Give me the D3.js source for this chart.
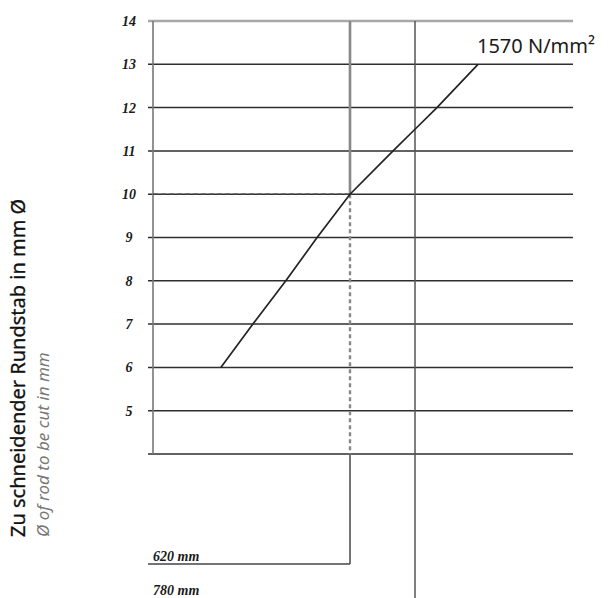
<!DOCTYPE html>
<html>
<head>
<meta charset="utf-8">
<script src="https://cdn.jsdelivr.net/npm/d3@7"></script>
<style>
  html, body { margin: 0; padding: 0; background: #fff; }
  svg { display: block; }
</style>
</head>
<body>
<svg id="chart" width="608" height="598"></svg>
<script>
// ---- data ----
const yTicks = [5, 6, 7, 8, 9, 10, 11, 12, 13, 14];      // labelled diameters (mm)
const gridLevels = [4, 5, 6, 7, 8, 9, 10, 11, 12, 13, 14];
const curveDia = [6, 7, 8, 9, 10, 11, 11.5, 12, 13];      // rod diameter (mm)
const curveLen = [302, 381, 462, 539, 620, 726, 780, 834, 935]; // length axis (mm)
const lengths = [620, 780];                                 // tool lengths (mm)
const lengthLabels = ["620 mm", "780 mm"];
const materialLabel = "1570 N/mm²";
const markDia = 10;
const titleMain = "Zu schneidender Rundstab in mm Ø";
const titleSub = "Ø of rod to be cut in mm";

// ---- scales ----
const svg = d3.select("#chart");
const y = d3.scaleLinear().domain([4, 14]).range([454, 21]);
const x = d3.scaleLinear().domain([620, 780]).range([350, 415]);
const xLeft = 153, xRight = 573, tickLen = 5;
const lenY = d3.scaleLinear().domain([620, 780]).range([564, 600]);

// horizontal grid lines
svg.append("g").selectAll("line").data(gridLevels).join("line")
  .attr("x1", xLeft - tickLen).attr("x2", xRight)
  .attr("y1", d => y(d)).attr("y2", d => y(d))
  .attr("stroke", d => d === 14 ? "#a8a8a8" : "#2e2e2e")
  .attr("stroke-width", d => d === 14 ? 2.5 : 1.5);

// left axis vertical
svg.append("line")
  .attr("x1", xLeft).attr("x2", xLeft)
  .attr("y1", y(14)).attr("y2", y(4))
  .attr("stroke", "#777").attr("stroke-width", 1.6);

// tick labels
svg.append("g").selectAll("text").data(yTicks).join("text")
  .attr("x", 129).attr("y", d => y(d))
  .attr("dy", "0.35em")
  .attr("text-anchor", "middle")
  .attr("font-family", "Liberation Serif, serif")
  .attr("font-weight", "bold").attr("font-style", "italic")
  .attr("font-size", 14).attr("fill", "#1a1a1a")
  .text(d => d);

// vertical length lines
svg.append("line")
  .attr("x1", x(620)).attr("x2", x(620))
  .attr("y1", y(14)).attr("y2", y(markDia))
  .attr("stroke", "#888").attr("stroke-width", 2.6);
svg.append("line")
  .attr("x1", x(620)).attr("x2", x(620))
  .attr("y1", y(markDia)).attr("y2", y(4))
  .attr("stroke", "#888").attr("stroke-width", 2.4)
  .attr("stroke-dasharray", "4,3");
svg.append("line")
  .attr("x1", x(620)).attr("x2", x(620))
  .attr("y1", y(4)).attr("y2", lenY(620))
  .attr("stroke", "#666").attr("stroke-width", 1.8);
svg.append("line")
  .attr("x1", x(780)).attr("x2", x(780))
  .attr("y1", y(14)).attr("y2", lenY(780))
  .attr("stroke", "#555").attr("stroke-width", 1.5);

// horizontal length lines + labels
svg.append("g").selectAll("line").data(lengths).join("line")
  .attr("x1", xLeft - tickLen).attr("x2", d => x(d))
  .attr("y1", d => lenY(d)).attr("y2", d => lenY(d))
  .attr("stroke", "#444").attr("stroke-width", 1.6);
svg.append("g").selectAll("text").data(lengths).join("text")
  .attr("x", xLeft).attr("y", d => Math.min(lenY(d) - 3, 595))
  .attr("font-family", "Liberation Serif, serif")
  .attr("font-weight", "bold").attr("font-style", "italic")
  .attr("font-size", 14).attr("fill", "#1a1a1a")
  .text((d, i) => lengthLabels[i]);

// dashed horizontal at marked diameter
svg.append("line")
  .attr("x1", xLeft).attr("x2", x(620))
  .attr("y1", y(markDia)).attr("y2", y(markDia))
  .attr("stroke", "#444").attr("stroke-width", 1.5)
  .attr("stroke-dasharray", "5,3");

// curve
const pts = curveDia.map((d, i) => [curveLen[i], d]);
svg.append("path")
  .datum(pts)
  .attr("fill", "none")
  .attr("stroke", "#222").attr("stroke-width", 1.7)
  .attr("d", d3.line().x(d => x(d[0])).y(d => y(d[1])));

// material label
svg.append("text")
  .attr("x", x(curveLen[curveLen.length - 1]) - 1).attr("y", 53)
  .attr("font-family", "Noto Sans, sans-serif")
  .attr("font-size", 20).attr("fill", "#1a1a1a")
  .text(materialLabel);

// axis titles
svg.append("text")
  .attr("transform", "translate(25,537) rotate(-90)")
  .attr("font-family", "Noto Sans, sans-serif")
  .attr("font-size", 20).attr("fill", "#111")
  .attr("stroke", "#111").attr("stroke-width", 0.3)
  .text(titleMain);
svg.append("text")
  .attr("transform", "translate(49,537) rotate(-90)")
  .attr("font-family", "Noto Sans, sans-serif")
  .attr("font-style", "italic")
  .attr("font-size", 17).attr("fill", "#777")
  .text(titleSub);
</script>
</body>
</html>
